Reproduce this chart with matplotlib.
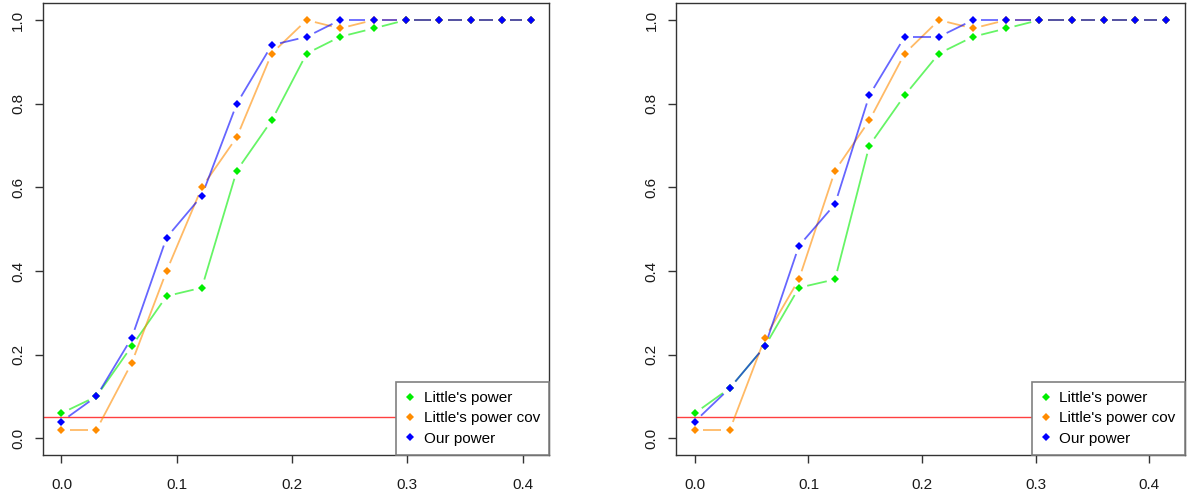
"""Power curves of Little's test vs. our test, two simulation settings side by side."""

import matplotlib

matplotlib.use("Agg")
import matplotlib.pyplot as plt
import numpy as np
from matplotlib.collections import LineCollection
from matplotlib.lines import Line2D

plt.rcParams["font.family"] = ["Liberation Sans", "DejaVu Sans"]

# effect size grid (left and right setting)
x_left = [0.0, 0.0303, 0.0609, 0.0912, 0.1218, 0.1521, 0.1824, 0.2127,
          0.2417, 0.2708, 0.2989, 0.3277, 0.3549, 0.3818, 0.4070]
x_right = [0.0, 0.0308, 0.0617, 0.0916, 0.1234, 0.1536, 0.1847, 0.2149,
           0.2448, 0.2741, 0.3033, 0.3320, 0.3599, 0.3876, 0.4146]

little_left = [0.06, 0.10, 0.22, 0.34, 0.36, 0.64, 0.76, 0.92, 0.96, 0.98,
               1.00, 1.00, 1.00, 1.00, 1.00]
little_cov_left = [0.02, 0.02, 0.18, 0.40, 0.60, 0.72, 0.92, 1.00, 0.98, 1.00,
                   1.00, 1.00, 1.00, 1.00, 1.00]
ours_left = [0.04, 0.10, 0.24, 0.48, 0.58, 0.80, 0.94, 0.96, 1.00, 1.00,
             1.00, 1.00, 1.00, 1.00, 1.00]

little_right = [0.06, 0.12, 0.22, 0.36, 0.38, 0.70, 0.82, 0.92, 0.96, 0.98,
                1.00, 1.00, 1.00, 1.00, 1.00]
little_cov_right = [0.02, 0.02, 0.24, 0.38, 0.64, 0.76, 0.92, 1.00, 0.98, 1.00,
                    1.00, 1.00, 1.00, 1.00, 1.00]
ours_right = [0.04, 0.12, 0.22, 0.46, 0.56, 0.82, 0.96, 0.96, 1.00, 1.00,
              1.00, 1.00, 1.00, 1.00, 1.00]

labels = ["Little's power", "Little's power cov", "Our power"]
colors = ["#00ee00", "#ff8c00", "#0000ff"]
alpha_level = 0.05

DPI = 100
GAP_PX = 8.5


def gapped_segments(ax, x, y, gap):
    """Segments between consecutive points, cut back by `gap` pixels at each end."""
    trans = ax.transData
    inv = trans.inverted()
    pts = trans.transform(np.column_stack([x, y]))
    segs = []
    for p, q in zip(pts[:-1], pts[1:]):
        d = q - p
        length = np.hypot(d[0], d[1])
        if length <= 2 * gap:
            continue
        u = d / length
        segs.append(inv.transform(np.array([p + u * gap, q - u * gap])))
    return segs


def power_panel(ax, x, series):
    xmax = max(x)
    ax.set_xlim(-0.04 * xmax, 1.04 * xmax)
    ax.set_ylim(-0.04, 1.04)
    ax.axhline(alpha_level, color="#ff4040", lw=1.0, zorder=1)
    for y, col in zip(series, colors):
        segs = gapped_segments(ax, x, y, GAP_PX)
        ax.add_collection(LineCollection(segs, colors=col, linewidths=1.3,
                                         alpha=0.6, zorder=2))
        ax.plot(x, y, linestyle="none", marker="D", markersize=3.8,
                markeredgewidth=0, color=col, zorder=3)

    ax.set_xticks([0.0, 0.1, 0.2, 0.3, 0.4])
    ax.set_yticks([0.0, 0.2, 0.4, 0.6, 0.8, 1.0])
    ax.set_xticklabels([f"{v:.1f}" for v in ax.get_xticks()])
    ax.set_yticklabels([f"{v:.1f}" for v in ax.get_yticks()],
                       rotation=90, va="center")
    ax.tick_params(axis="both", direction="out", length=6, width=1.0,
                   color="#333333", labelsize=11, labelcolor="#1a1a1a")
    ax.tick_params(axis="x", pad=10.5)
    ax.tick_params(axis="y", pad=6.5)
    for sp in ax.spines.values():
        sp.set_color("#333333")
        sp.set_linewidth(1.0)

    handles = [Line2D([], [], linestyle="none", marker="D", markersize=3.8,
                      markeredgewidth=0, color=c) for c in colors]
    leg = ax.legend(handles, labels, loc="lower right", borderaxespad=0,
                    fontsize=11, frameon=True, fancybox=False, framealpha=1,
                    handlelength=0.6, handletextpad=0.6, labelspacing=0.42,
                    borderpad=0.6)
    leg.get_frame().set_edgecolor("#808080")
    leg.get_frame().set_linewidth(1.2)
    leg.set_zorder(5)


fig = plt.figure(figsize=(11.87, 4.95), dpi=DPI)
ax_left = fig.add_axes([0.036, 0.0808, 0.4268, 0.9125])
ax_right = fig.add_axes([0.5695, 0.0808, 0.4286, 0.9125])

power_panel(ax_left, x_left, [little_left, little_cov_left, ours_left])
power_panel(ax_right, x_right, [little_right, little_cov_right, ours_right])

fig.savefig("out.png", dpi=DPI)
plt.close(fig)
